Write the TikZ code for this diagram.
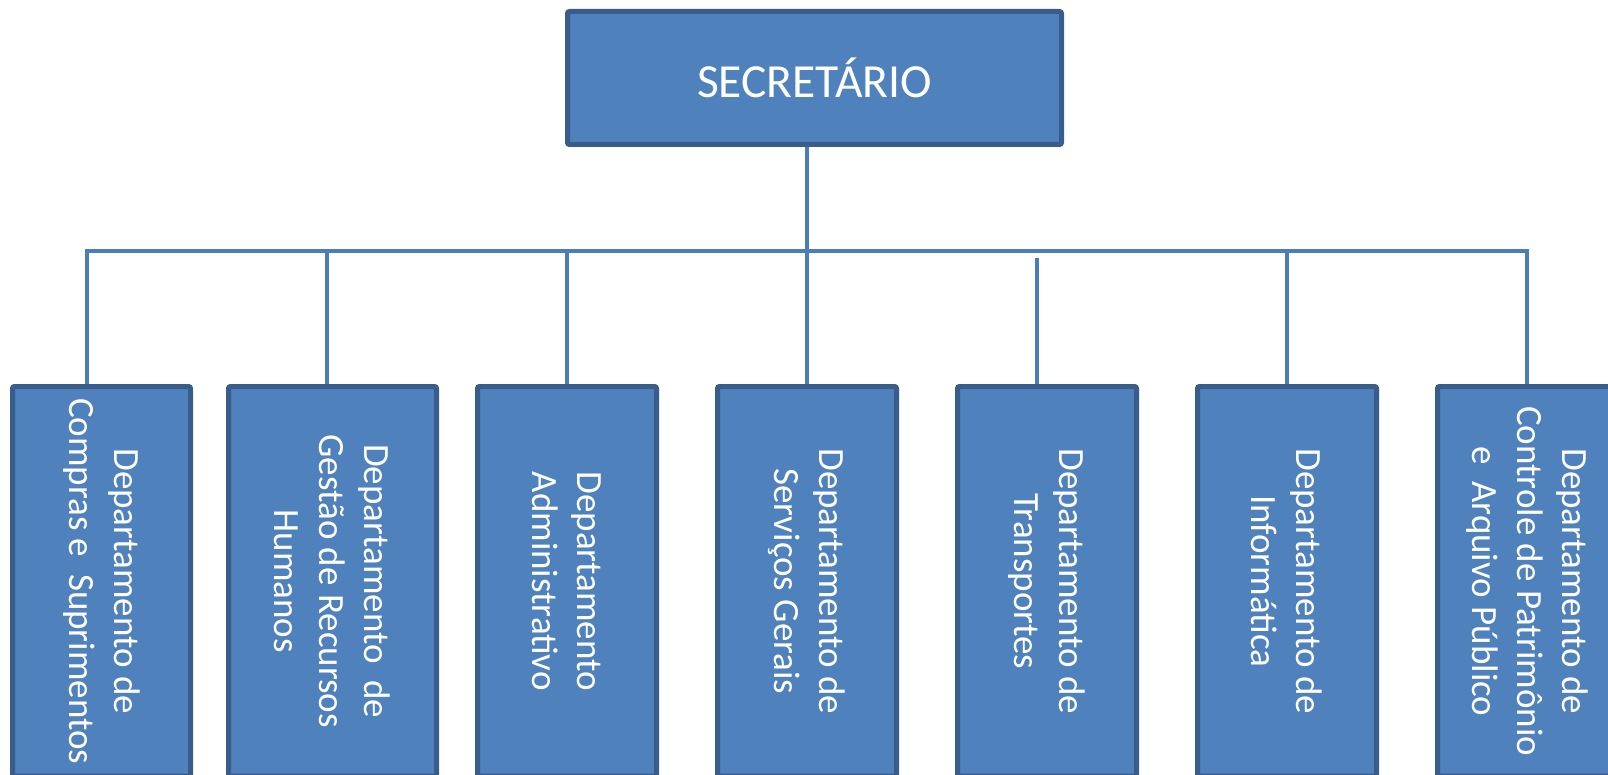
\documentclass[tikz,border=0pt]{standalone}
\usepackage{fontspec}
\setmainfont{Carlito}
\definecolor{boxfill}{HTML}{4F81BD}
\definecolor{boxline}{HTML}{385D8A}
\definecolor{connline}{HTML}{4A7EBB}
\tikzset{
  orgbox/.style={draw=boxline, fill=boxfill, line width=5pt, rounded corners=2pt,
    inner sep=0pt, text=white, align=center},
  topbox/.style={orgbox, font=\fontsize{47.5}{57}\selectfont},
  deptbox/.style={orgbox, rotate=-90, minimum width=389.5pt,
    font=\fontsize{37}{45}\selectfont},
  conn/.style={draw=connline, line width=3.5pt}
}
\begin{document}
\begin{tikzpicture}[x=1pt,y=-1pt]
\useasboundingbox (0,0) rectangle (1608,775);
\clip (0,0) rectangle (1608,775);
\fill[white] (0,0) rectangle (1608,775);
% top
\node[topbox, minimum width=494pt, minimum height=133pt] (sec) at (814.5,78) {SECRETÁRIO};
% departments
\node[deptbox, minimum height=178pt] (d1) at (101.5,581.25) {Departamento de\\Compras e~\ Suprimentos};
\node[deptbox, minimum height=208pt] (d2) at (332.5,581.25) {Departamento~\ de\\Gestão de Recursos\\Humanos};
\node[deptbox, minimum height=179pt] (d3) at (567,581.25) {Departamento\\Administrativo};
\node[deptbox, minimum height=179pt] (d4) at (807,581.25) {Departamento de\\Serviços Gerais};
\node[deptbox, minimum height=179pt] (d5) at (1047,581.25) {Departamento de\\Transportes};
\node[deptbox, minimum height=179pt] (d6) at (1287,581.25) {Departamento de\\Informática};
\node[deptbox, minimum height=179pt] (d7) at (1527,581.25) {Departamento de\\Controle de Patrimônio\\e~\ Arquivo Público};
% junctions on the bus
\coordinate (j1) at (87,251);
\coordinate (j2) at (327,251);
\coordinate (j3) at (567,251);
\coordinate (j4) at (807,251);
\coordinate (j5) at (1037,258);
\coordinate (j6) at (1287,251);
\coordinate (j7) at (1527,251);
% connectors
\draw[conn] (j4 |- sec.south) -- (j4);
\draw[conn] (j1 |- d1.west) -- (j1) -- (j7) -- (j7 |- d7.west);
\draw[conn] (j2) -- (j2 |- d2.west);
\draw[conn] (j3) -- (j3 |- d3.west);
\draw[conn] (j4) -- (j4 |- d4.west);
\draw[conn] (j5) -- (j5 |- d5.west);
\draw[conn] (j6) -- (j6 |- d6.west);
\end{tikzpicture}
\end{document}
